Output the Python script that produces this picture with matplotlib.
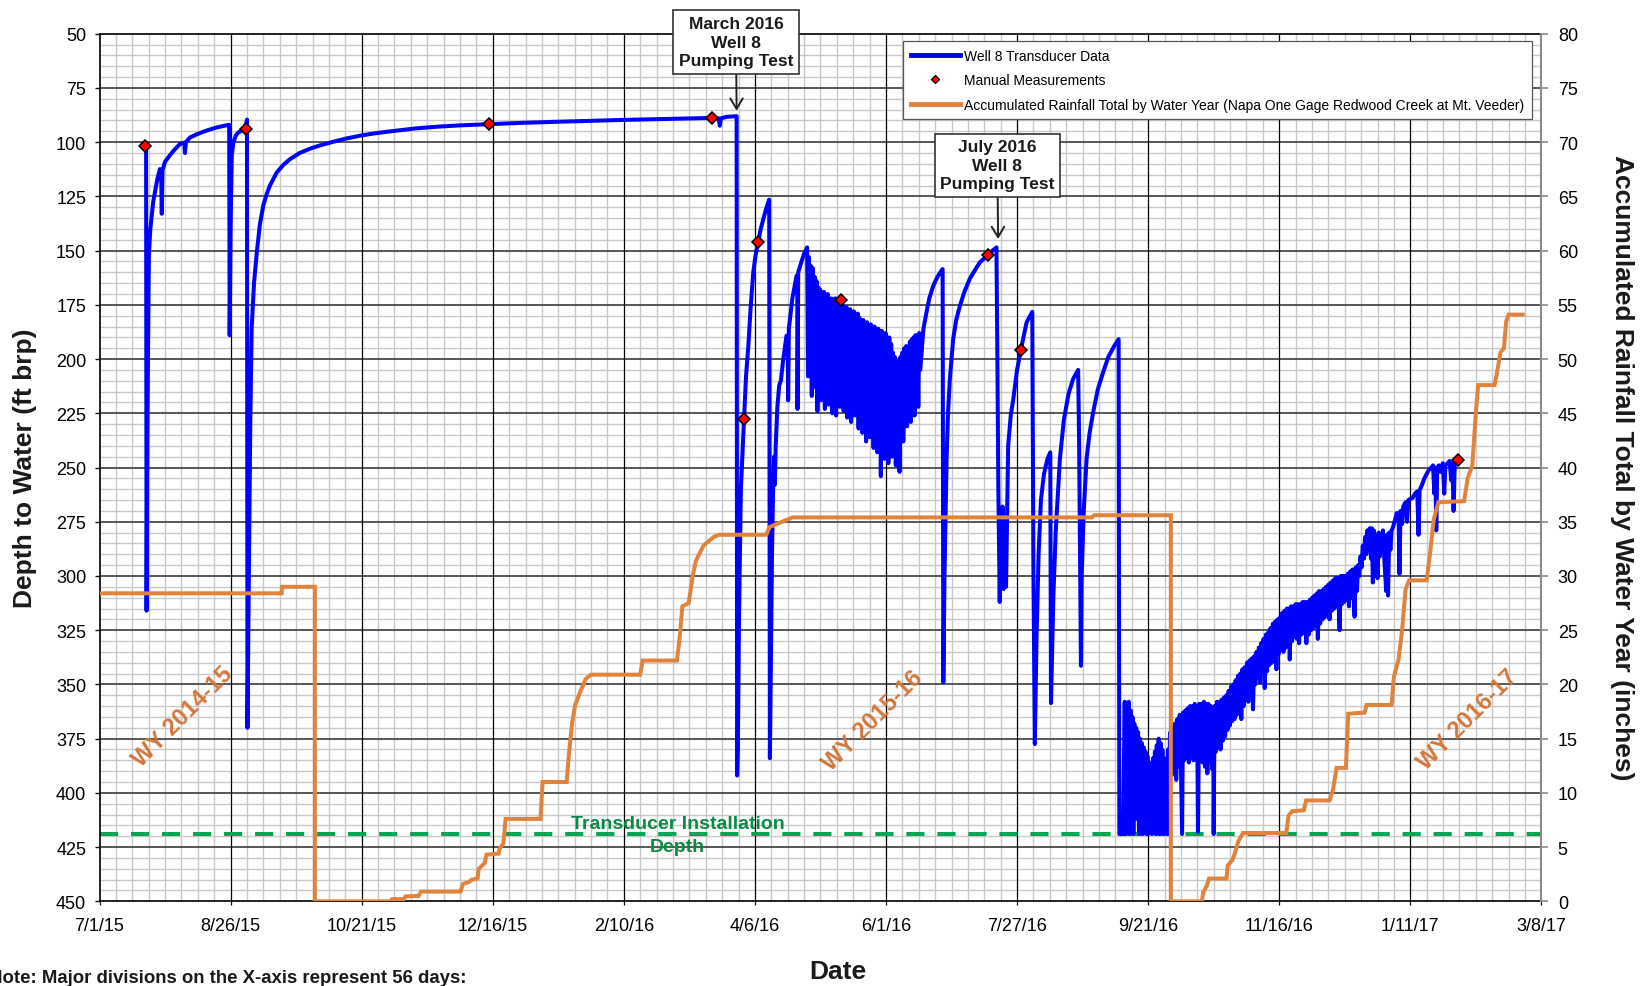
import datetime as dt
import numpy as np
import matplotlib
matplotlib.use("Agg")
import matplotlib.pyplot as plt
import matplotlib.dates as mdates
from matplotlib.ticker import FixedLocator
from matplotlib.lines import Line2D
from matplotlib import font_manager

_avail = {f.name for f in font_manager.fontManager.ttflist}
FONT = "Liberation Sans" if "Liberation Sans" in _avail else "DejaVu Sans"
NARROW = "Liberation Sans Narrow" if "Liberation Sans Narrow" in _avail else FONT
plt.rcParams["font.family"] = [FONT, "DejaVu Sans"]

# ---------------- data (days since 7/1/15) ----------------
START = dt.datetime(2015, 7, 1)
x_tick_labels = ["7/1/15", "8/26/15", "10/21/15", "12/16/15", "2/10/16", "4/6/16",
                 "6/1/16", "7/27/16", "9/21/16", "11/16/16", "1/11/17", "3/8/17"]
depth_ticks = [50, 75, 100, 125, 150, 175, 200, 225, 250, 275, 300, 325, 350, 375, 400, 425, 450]
rain_ticks = [0, 5, 10, 15, 20, 25, 30, 35, 40, 45, 50, 55, 60, 65, 70, 75, 80]
transducer_depth = 419

# Well 8 transducer data: recovery before March 2016 test
well_seg_2015 = [
    (19.9, 103), (20.1, 316), (20.4, 240), (20.8, 185), (21.1, 152), (21.7, 140), (22.3, 134),
    (23.0, 127), (23.7, 123), (24.7, 117), (25.8, 112.4), (26.3, 113), (26.6, 133), (26.9, 113),
    (28.0, 109), (30.1, 106), (32.0, 103.5), (34.4, 100.8), (36.2, 100.2), (36.5, 105), (36.9, 100),
    (38.7, 97.8), (41.5, 96.4), (44.3, 95.2), (47.0, 94.2), (50.1, 93.2), (53.0, 92.5), (55.4, 92),
    (55.6, 189), (56.0, 140), (56.5, 106), (57.2, 100), (58.2, 97), (59.3, 95.5), (61.4, 94.3),
    (62.8, 91), (63.0, 89.6), (63.2, 370), (63.8, 300), (64.4, 230), (65.0, 186), (66.0, 165),
    (67.2, 150.8), (68.5, 138), (70.0, 129), (71.4, 124), (72.8, 120), (75.7, 114), (78.5, 110.5),
    (81.4, 107.8), (85.5, 105), (89.9, 103), (95.0, 101.2), (99.9, 99.8), (105.0, 98.4),
    (111.3, 97), (117.0, 96), (122.7, 95.2), (129.0, 94.4), (135.5, 93.6), (145.0, 92.8),
    (155.0, 92.2), (168.2, 91.6), (180.0, 91.1), (195.0, 90.6), (208.6, 90.2), (225.0, 89.7),
    (244.5, 89.2), (258.0, 88.9), (264.5, 89), (265.0, 92.4), (265.5, 89), (268.0, 88.3),
    (272.2, 88),
]
# March-July 2016 pumping tests and daily pumping cycles
well_seg_2016a = [
    (272.4, 392), (272.7, 380), (273.2, 320), (274.0, 260), (275.4, 227.6), (276.2, 208),
    (277.2, 193.8), (278.2, 176), (279.3, 160), (280.3, 152), (281.4, 145.9), (282.5, 140),
    (283.6, 135.4), (285.0, 130), (286.1, 126.5), (286.4, 384), (286.9, 330), (287.3, 290),
    (287.8, 258), (288.2, 245), (288.5, 258), (288.9, 240), (289.6, 222), (290.4, 212),
    (291.1, 210), (292.0, 201), (293.5, 189.2), (294.0, 190), (294.2, 219), (294.5, 186),
    (296.0, 172), (297.8, 161.6), (298.1, 162), (298.2, 223), (298.5, 160), (300.0, 154.7),
    (301.0, 151.5), (302.3, 148.5),
    (302.7, 208), (303.1, 153), (303.5, 196), (303.9, 157), (304.3, 217), (304.7, 158),
    (305.1, 201), (305.5, 162), (305.9, 213), (306.3, 164), (306.7, 224), (307.1, 167),
    (307.5, 199), (307.9, 168), (308.3, 219), (308.7, 170), (309.1, 205), (309.5, 169),
    (309.9, 223), (310.3, 172), (310.7, 209), (311.1, 170), (311.5, 221), (311.9, 173),
    (312.3, 204), (312.7, 172), (313.1, 225), (313.5, 174), (313.9, 211), (314.3, 172),
    (314.7, 226), (315.1, 175), (315.5, 206), (315.9, 173), (316.3, 222), (316.7, 176),
    (317.1, 212), (317.5, 175), (317.9, 224), (318.3, 177), (318.7, 208), (319.1, 176),
    (319.5, 227), (319.9, 178), (320.3, 214), (320.7, 177), (321.1, 229), (321.5, 179),
    (321.9, 211), (322.3, 178), (322.7, 226), (323.1, 180), (323.5, 216), (323.9, 179),
    (324.3, 232), (324.7, 181), (325.1, 213), (325.5, 183), (325.9, 234), (326.3, 182),
    (326.7, 219), (327.1, 184), (327.5, 238), (327.9, 183), (328.3, 218), (328.7, 185),
    (329.1, 236), (329.5, 184), (329.9, 222), (330.3, 186), (330.7, 241), (331.1, 185),
    (331.5, 224), (331.9, 187), (332.3, 243), (332.7, 186), (333.1, 226), (333.5, 188),
    (333.8, 254), (334.2, 187), (334.6, 229), (335.0, 189), (335.4, 246), (335.8, 188),
    (336.2, 228), (336.6, 191), (337.0, 248), (337.4, 190), (337.8, 231), (338.2, 193),
    (338.6, 245), (339.0, 197), (339.4, 232), (339.8, 199), (340.2, 249), (340.6, 201),
    (341.0, 236), (341.4, 202), (341.8, 252), (342.2, 199), (342.6, 228), (343.0, 197),
    (343.4, 238), (343.8, 195), (344.2, 222), (344.6, 194), (345.0, 231), (345.4, 195),
    (345.8, 219), (346.2, 192), (346.6, 229), (347.0, 191), (347.4, 216), (347.8, 190),
    (348.2, 226), (348.6, 189), (349.0, 214), (349.4, 189), (349.8, 222), (350.2, 188),
    (350.6, 205), (351.0, 200), (352.0, 186), (353.3, 178.5), (354.5, 172), (356.2, 166.2),
    (358.0, 162), (360.2, 158.5), (360.5, 349), (361.0, 300), (361.9, 246), (362.5, 225),
    (363.3, 209), (364.7, 190.8), (366.0, 182), (367.6, 175.4), (369.5, 169), (371.8, 163),
    (374.0, 159), (376.1, 155.4), (379.7, 152), (381.5, 150), (383.2, 148.5),
]
well_seg_2016b = [
    (383.6, 200), (384.0, 260), (384.6, 312), (385.0, 270), (385.4, 300), (385.8, 268),
    (386.3, 306), (386.8, 280), (387.3, 305), (388.2, 240), (389.3, 226), (390.4, 218.4),
    (392.0, 205), (393.6, 195.8), (396.1, 183), (398.5, 178.2), (398.7, 226), (399.0, 300),
    (399.6, 377.5), (400.3, 330), (401.2, 290), (402.2, 265), (403.5, 253), (405.0, 246),
    (406.2, 243), (406.5, 358.6), (407.5, 310), (408.5, 280), (410.3, 246), (412.0, 228),
    (414.0, 216), (416.0, 209), (418.1, 205), (418.5, 237), (419.3, 341.4), (419.6, 300),
    (420.5, 270), (421.7, 246), (423.0, 234), (424.5, 224.6), (426.5, 214), (428.8, 206),
    (431.0, 199), (433.5, 194), (435.4, 190.8),
]
# water level below transducer (flat at installation depth) with pumping cycles
well_seg_2016c = [
    (435.7, 419), (436.5, 419), (437.3, 419), (438.0, 358), (438.4, 419), (438.9, 360),
    (439.3, 405), (439.7, 358), (440.1, 419), (440.5, 362), (440.9, 400), (441.3, 365),
    (441.7, 419), (442.1, 368), (442.5, 395), (442.9, 370), (443.3, 412), (443.7, 372),
    (444.1, 419), (444.5, 375), (444.9, 402), (445.3, 377), (445.7, 419), (446.1, 379),
    (446.5, 410), (446.9, 381), (447.3, 419), (447.7, 383), (448.1, 419), (448.5, 386),
    (448.9, 412), (449.3, 389), (449.7, 419), (450.1, 384), (450.5, 408), (450.9, 381),
    (451.3, 419), (451.7, 378), (452.1, 402), (452.5, 375), (452.9, 419), (453.3, 377),
    (453.7, 410), (454.1, 380), (454.5, 419), (454.9, 384), (455.3, 405), (455.7, 386),
    (456.1, 419), (456.5, 380), (456.9, 419), (457.3, 374),
]
# WY 2016-17 recovery trend with daily cycles
well_seg_2017 = [
    (457.5, 372), (458.0, 392), (458.5, 370), (459.0, 390), (459.5, 368), (460.0, 394),
    (460.5, 366), (461.0, 388), (461.5, 364), (462.0, 386), (462.5, 419), (462.9, 363),
    (463.4, 385), (463.9, 362), (464.4, 384), (464.9, 361), (465.4, 386), (465.9, 360),
    (466.4, 382), (466.9, 360), (467.4, 385), (467.9, 359), (468.4, 383), (468.9, 360),
    (469.3, 418), (469.8, 359), (470.3, 384), (470.8, 359), (471.3, 386), (471.8, 358),
    (472.3, 388), (472.8, 359), (473.3, 391), (473.8, 359), (474.3, 385), (474.8, 360),
    (475.3, 389), (475.8, 361), (476.0, 419), (476.4, 360), (476.9, 381), (477.4, 358),
    (477.9, 378), (478.4, 358), (478.9, 380), (479.4, 357), (479.9, 376), (480.4, 356),
    (480.9, 374), (481.4, 355), (481.9, 371), (482.4, 353), (482.9, 369), (483.4, 351),
    (483.9, 367), (484.4, 350), (484.9, 366), (485.4, 348), (485.9, 364), (486.4, 346),
    (486.9, 362), (487.4, 345), (487.8, 366), (488.3, 343), (488.8, 360), (489.3, 342),
    (489.8, 357), (490.3, 340), (490.8, 358), (491.3, 339), (491.8, 355), (492.3, 338),
    (492.8, 361.5), (493.3, 337), (493.8, 350), (494.3, 335), (494.8, 347), (495.3, 333),
    (495.8, 349), (496.3, 331), (496.8, 345), (497.3, 329), (497.8, 351.7), (498.3, 327),
    (498.8, 344), (499.3, 326), (499.8, 341), (500.3, 324), (500.8, 340), (501.3, 322),
    (501.8, 338), (502.3, 321), (502.8, 343), (503.3, 320), (503.8, 336), (504.3, 319),
    (504.8, 334), (505.3, 317), (505.8, 335), (506.3, 316), (506.8, 333), (507.3, 315),
    (507.8, 332), (508.3, 315), (508.5, 338.5), (509.0, 314), (509.5, 330), (510.0, 314),
    (510.5, 328), (511.0, 313), (511.5, 329), (512.0, 313), (512.5, 331), (513.0, 313),
    (513.5, 327), (514.0, 312), (514.5, 326), (515.0, 312), (515.6, 331), (516.1, 312),
    (516.6, 327), (517.1, 311), (517.6, 325), (518.1, 310), (518.6, 324), (519.1, 309),
    (519.6, 323), (520.1, 308), (520.5, 329), (521.0, 307), (521.5, 322), (522.0, 307),
    (522.5, 320), (523.0, 306), (523.5, 319), (524.0, 305), (524.5, 318), (525.0, 304),
    (525.5, 320), (526.0, 303), (526.5, 316), (527.0, 302), (527.5, 315), (528.0, 301),
    (528.5, 314), (529.0, 301), (529.8, 325), (530.3, 300), (530.8, 313), (531.3, 300),
    (531.8, 312), (532.3, 300), (532.8, 311), (533.3, 299), (533.8, 314), (534.3, 298),
    (534.8, 310), (535.3, 297), (535.8, 309), (536.2, 318.8), (536.7, 296), (537.2, 307),
    (537.7, 295), (538.2, 300), (538.7, 291), (539.2, 296), (539.7, 286), (540.2, 292),
    (540.7, 282), (541.2, 290), (541.7, 279), (542.2, 288), (542.7, 278), (543.2, 292),
    (543.6, 278), (544.0, 303), (544.4, 279), (545.0, 296), (545.5, 281), (546.0, 301),
    (546.5, 280), (547.0, 291), (547.5, 282), (548.0, 286), (548.3, 279), (549.0, 294),
    (549.7, 307), (550.1, 281), (550.5, 309), (551.0, 280), (551.5, 288), (552.0, 279),
    (552.6, 277.6), (553.5, 274), (554.2, 271), (555.0, 272), (555.4, 299), (555.8, 270),
    (556.5, 276), (557.0, 268), (558.0, 266), (558.6, 275), (559.2, 265), (560.0, 264.5),
    (561.0, 264), (562.0, 262), (563.0, 261), (563.5, 281), (564.0, 260.4), (565.0, 258),
    (566.0, 255), (567.0, 253), (568.0, 251), (569.0, 250), (569.7, 249), (570.3, 262),
    (570.7, 250), (571.1, 279), (571.5, 250), (572.2, 249), (573.0, 252), (573.9, 248),
    (574.5, 262), (575.0, 249), (576.0, 248), (576.8, 247), (577.5, 256), (578.0, 248),
    (578.5, 270), (579.0, 248), (579.6, 246.4), (580.3, 246),
]

manual_days = [19.4, 62.4, 166.3, 261.5, 275.4, 281.4, 316.6, 379.7, 393.6, 580.4]
manual_depth = [101.8, 93.9, 91.5, 88.9, 227.6, 145.9, 172.6, 152.0, 195.8, 246.4]

# accumulated rainfall by water year (inches)
rain_wy2015 = [(0, 28.4), (77.8, 28.4), (78.0, 29.0), (92.0, 29.0), (92.0, 0)]
rain_wy2016 = [
    (92.0, 0), (124.5, 0), (125.0, 0.2), (130.0, 0.2), (130.7, 0.45), (136.3, 0.5), (137.4, 0.9),
    (154.2, 0.9), (155.3, 1.6), (158.0, 1.8), (159.0, 2.0), (161.5, 2.1), (162.0, 3.0),
    (163.5, 3.3), (164.5, 3.5), (165.3, 4.3), (170.5, 4.4), (171.0, 4.9), (172.5, 5.3),
    (173.5, 7.6), (188.4, 7.6), (189.3, 11.0), (199.6, 11.0), (200.5, 13.5), (201.9, 16.4),
    (203.2, 18.1), (205.0, 19.1), (207.7, 20.5), (210.0, 20.9), (231.0, 20.9), (232.0, 22.2),
    (246.7, 22.2), (248.0, 24.6), (249.0, 27.2), (251.7, 27.5), (253.5, 30.1), (254.8, 31.4),
    (258.0, 32.8), (262.4, 33.6), (264.7, 33.8), (284.9, 33.8), (286.2, 34.5), (289.4, 34.8),
    (296.1, 35.4), (424.0, 35.4), (424.9, 35.6), (457.7, 35.6), (457.7, 0),
]
rain_wy2017 = [
    (457.7, 0), (471.0, 0), (471.5, 0.8), (473.0, 1.4), (474.0, 2.1), (481.5, 2.1), (482.0, 3.3),
    (484.0, 3.8), (485.0, 4.4), (486.5, 5.5), (488.5, 6.3), (507.0, 6.3), (508.0, 7.9),
    (509.5, 8.3), (514.5, 8.4), (515.5, 9.3), (525.5, 9.3), (527.0, 10.3), (528.5, 12.3),
    (532.5, 12.3), (533.5, 17.3), (540.5, 17.4), (541.3, 18.1), (552.0, 18.1), (553.0, 20.7),
    (555.0, 22.3), (556.5, 25.0), (558.0, 28.8), (559.5, 29.6), (567.0, 29.6), (568.5, 32.2),
    (570.0, 35.2), (572.0, 36.8), (583.0, 36.9), (584.5, 39.0), (586.5, 40.2), (588.0, 45.0),
    (589.0, 47.6), (596.0, 47.6), (597.0, 48.7), (598.5, 50.6), (600.0, 51.0), (601.0, 53.5),
    (602.0, 54.1), (608.0, 54.1),
]

legend_labels = ["Well 8 Transducer Data", "Manual Measurements",
                 "Accumulated Rainfall Total by Water Year (Napa One Gage Redwood Creek at Mt. Veeder)"]

# ---------------- helpers ----------------
BASE = mdates.date2num(START)


def to_x(days):
    return BASE + np.asarray(days, dtype=float)


def parse_label(s):
    m, d, y = (int(v) for v in s.split("/"))
    return mdates.date2num(dt.datetime(2000 + y, m, d))


BLUE = "#0000FF"
ORANGE = "#E0843D"
WYC = "#D2773C"
GREEN = "#00A651"

fig = plt.figure(figsize=(16.45, 9.87), dpi=100)
ax = fig.add_axes([0.0605, 0.0858, 0.8765, 0.879])
ax2 = ax.twinx()

x_major = [parse_label(s) for s in x_tick_labels]
x0, x1 = x_major[0], x_major[-1]
ax.set_xlim(x0, x1)
ax.set_ylim(450, 50)
ax2.set_ylim(0, 80)

ax.set_xticks(x_major)
ax.set_xticklabels(x_tick_labels)
x_minor = [v for v in np.arange(x0, x1 + 0.1, 7) if min(abs(v - m) for m in x_major) > 0.5]
ax.xaxis.set_minor_locator(FixedLocator(x_minor))
ax.set_yticks(depth_ticks)
y_minor = [v for v in range(50, 451, 5) if v % 25 != 0]
ax.yaxis.set_minor_locator(FixedLocator(y_minor))
ax2.set_yticks(rain_ticks)

# minor grid via the axis grid, major grid lines drawn above it
ax.set_axisbelow(True)
ax.grid(which="minor", color="#c9c9c9", lw=1.0)
ax.grid(which="major", visible=False)
for yv in depth_ticks[1:-1]:
    ax.axhline(yv, color="#4a4a4a", lw=1.3, zorder=1)
for xv in x_major[1:-1]:
    ax.axvline(xv, color="#000000", lw=0.9, zorder=1.1)

for s in ["top", "bottom", "left"]:
    ax.spines[s].set_color("#111111")
    ax.spines[s].set_linewidth(1.3)
ax.spines["right"].set_visible(False)
for s in ["top", "bottom", "left"]:
    ax2.spines[s].set_visible(False)
ax2.spines["right"].set_color("#8a8a8a")
ax2.spines["right"].set_linewidth(1.5)

ax.tick_params(axis="y", which="major", direction="out", length=3.6, width=1.0, color="#111111",
               labelsize=13, pad=6)
ax.tick_params(axis="x", which="major", direction="out", length=3.0, width=0.9, color="#111111",
               labelsize=13, pad=8)
ax.tick_params(which="minor", length=0)
ax2.tick_params(axis="y", which="major", direction="out", length=4.8, width=1.2, color="#8a8a8a",
                labelsize=13, pad=7)
ax2.tick_params(which="minor", length=0)

# transducer installation depth
ax.axhline(transducer_depth, color=GREEN, lw=2.9, dashes=(4.5, 3.2), zorder=2)

# well data
well = well_seg_2015 + well_seg_2016a + well_seg_2016b + well_seg_2016c + well_seg_2017
wd = [p[0] for p in well]
wv = [p[1] for p in well]
ax.plot(to_x(wd), wv, color=BLUE, lw=2.9, solid_joinstyle="round", zorder=3)
ax.plot(to_x(manual_days), manual_depth, ls="none", marker="D", ms=6.2, mfc="#FF0000",
        mec="#000000", mew=1.1, zorder=5)

# rainfall
for seg in (rain_wy2015, rain_wy2016, rain_wy2017):
    ax2.plot(to_x([p[0] for p in seg]), [p[1] for p in seg], color=ORANGE, lw=2.9,
             solid_joinstyle="miter", zorder=3)

# water-year labels
for lab, d, dep in (("WY 2014-15", 35.4, 364.7), ("WY 2015-16", 330.5, 366.4), ("WY 2016-17", 584.4, 366.0)):
    ax.text(to_x([d])[0], dep, lab, rotation=45, rotation_mode="anchor", ha="center", va="center",
            color=WYC, fontsize=17, fontweight="bold", family=[NARROW, "DejaVu Sans"], zorder=4)

# transducer installation depth label
ax.text(to_x([247])[0], 414.2, "Transducer Installation", ha="center", va="center", color="#0B8A45",
        fontsize=14, fontweight="bold", zorder=4)
ax.text(to_x([247])[0], 424.8, "Depth", ha="center", va="center", color="#0B8A45",
        fontsize=14, fontweight="bold", zorder=4)

# pumping test annotations
arrow = dict(arrowstyle="->,head_length=0.5,head_width=0.3", color="#222222", lw=1.4,
             mutation_scale=15, shrinkA=0, shrinkB=0)
box = dict(boxstyle="square,pad=0.32", fc="white", ec="#333333", lw=1.2)
ax2.annotate("March 2016\nWell 8\nPumping Test", xy=(to_x([272.2])[0], 80 - (111.7 - 34.7) / 10.845),
             xytext=(to_x([271.9])[0], 80 - (43 - 34.7) / 10.845), ha="center", va="center",
             fontsize=12.5, fontweight="bold", color="#1a1a1a", bbox=box, arrowprops=arrow,
             annotation_clip=False, zorder=10, linespacing=1.3)
ax2.annotate("July 2016\nWell 8\nPumping Test", xy=(to_x([383.9])[0], 80 - (240 - 34.7) / 10.845),
             xytext=(to_x([383.6])[0], 80 - (166.3 - 34.7) / 10.845), ha="center", va="center",
             fontsize=12.5, fontweight="bold", color="#1a1a1a", bbox=box, arrowprops=arrow,
             annotation_clip=False, zorder=10, linespacing=1.3)

# legend
handles = [Line2D([], [], color=BLUE, lw=3.5),
           Line2D([], [], ls="none", marker="D", ms=4.5, mfc="#FF0000", mec="#000000", mew=0.9),
           Line2D([], [], color=ORANGE, lw=3.5)]
leg = ax2.legend(handles, legend_labels, loc="upper right", bbox_to_anchor=(0.9932, 0.9916),
                 borderaxespad=0, fontsize=10, frameon=True, fancybox=False, framealpha=1,
                 edgecolor="#555555", handlelength=3.5, handletextpad=0.3, labelspacing=0.75,
                 borderpad=0.55)
leg.get_frame().set_linewidth(0.9)
leg.set_zorder(20)

# axis titles
fig.text(25 / 1645, 1 - 468 / 987, "Depth to Water (ft brp)", rotation=90, ha="center", va="center",
         fontsize=19, fontweight="bold", color="#1a1a1a")
fig.text(1622 / 1645, 1 - 468 / 987, "Accumulated Rainfall Total by Water Year (inches)", rotation=270,
         ha="center", va="center", fontsize=19, fontweight="bold", color="#1a1a1a")
fig.text(838 / 1645, 1 - 972.5 / 987, "Date", ha="center", va="center", fontsize=19,
         fontweight="bold", color="#1a1a1a")
fig.text(-11 / 1645, 1 - 979 / 987, "Note: Major divisions on the X-axis represent 56 days:",
         ha="left", va="center", fontsize=13.4, fontweight="bold", color="#1a1a1a")

fig.savefig("out.png", dpi=100)
